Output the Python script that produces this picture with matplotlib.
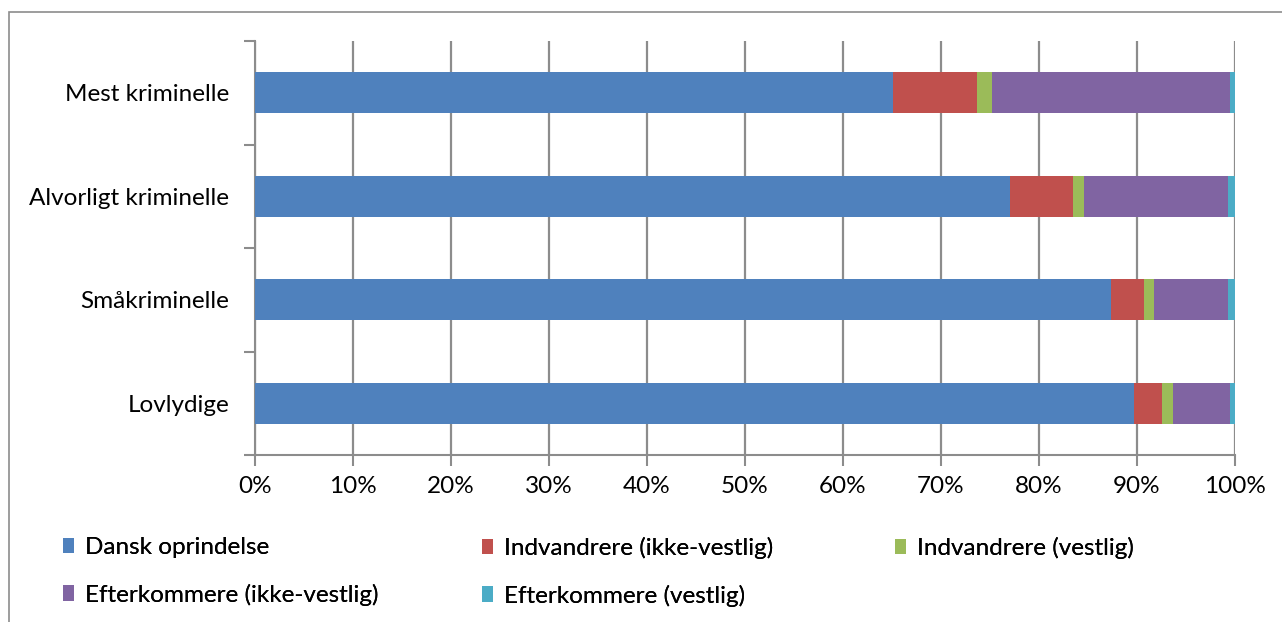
import numpy as np
import matplotlib.pyplot as plt
from matplotlib.patches import Rectangle

plt.rcParams['font.family'] = ['Lato', 'DejaVu Sans']

# data (shares in percent)
categories = ['Mest kriminelle', 'Alvorligt kriminelle', 'Småkriminelle', 'Lovlydige']
series_names = ['Dansk oprindelse', 'Indvandrere (ikke-vestlig)', 'Indvandrere (vestlig)',
                'Efterkommere (ikke-vestlig)', 'Efterkommere (vestlig)']
dansk = [65.1, 77.0, 87.3, 89.7]
indv_ikke = [8.6, 6.5, 3.4, 2.9]
indv_vest = [1.5, 1.1, 1.0, 1.1]
efter_ikke = [24.3, 14.7, 7.6, 5.8]
efter_vest = [0.5, 0.7, 0.7, 0.5]
colors = ['#4F81BD', '#C0504D', '#9BBB59', '#8064A2', '#4BACC6']

W, H = 1282, 622
FS = 17.5
fig = plt.figure(figsize=(W / 100, H / 100), dpi=100)
ax = fig.add_axes([255 / W, (H - 455) / H, 980 / W, 414 / H])

# outer chart frame (cut off on the right and bottom)
fig.patches.append(Rectangle((9 / W, -0.1), 1.2, (H - 12) / H + 0.1, transform=fig.transFigure,
                             fill=False, edgecolor='#8C8C8C', linewidth=1.2))

y = np.arange(len(categories))
left = np.zeros(len(categories))
handles = []
for vals, name, c in zip([dansk, indv_ikke, indv_vest, efter_ikke, efter_vest], series_names, colors):
    b = ax.barh(y, vals, left=left, height=0.4, color=c, label=name, zorder=3)
    handles.append(b)
    left += np.array(vals)

ax.set_xlim(0, 100)
ax.set_ylim(len(categories) - 0.5, -0.5)
ax.set_xticks(np.arange(0, 101, 10))
ax.set_xticklabels([f'{v}%' for v in range(0, 101, 10)], fontsize=FS)
ax.set_yticks(y)
ax.set_yticklabels(categories, fontsize=FS)
ax.tick_params(axis='y', length=0, pad=18.5)
ax.tick_params(axis='x', length=8, width=1.5, color='#8C8C8C', pad=7)
ax.set_yticks(np.arange(-0.5, len(categories), 1), minor=True)
ax.tick_params(axis='y', which='minor', length=8, width=1.5, color='#8C8C8C')
ax.xaxis.grid(True, color='#8C8C8C', linewidth=1.6, zorder=0)
for s in ['top', 'right']:
    ax.spines[s].set_visible(False)
for s in ['left', 'bottom']:
    ax.spines[s].set_color('#8C8C8C')
    ax.spines[s].set_linewidth(1.5)

# legend: three columns placed like the original
groups = [[0, 3], [1, 4], [2]]
col_x = [63, 482, 895]
for g, x0 in zip(groups, col_x):
    leg = fig.legend([handles[i] for i in g], [series_names[i] for i in g],
                     loc='upper left', bbox_to_anchor=(x0 / W, (H - 537) / H), ncol=1,
                     frameon=False, fontsize=FS, borderpad=0, borderaxespad=0,
                     handlelength=0.45, handleheight=0.6, handletextpad=0.45,
                     labelspacing=1.05)
    fig.add_artist(leg)

fig.savefig('out.png', dpi=100)
